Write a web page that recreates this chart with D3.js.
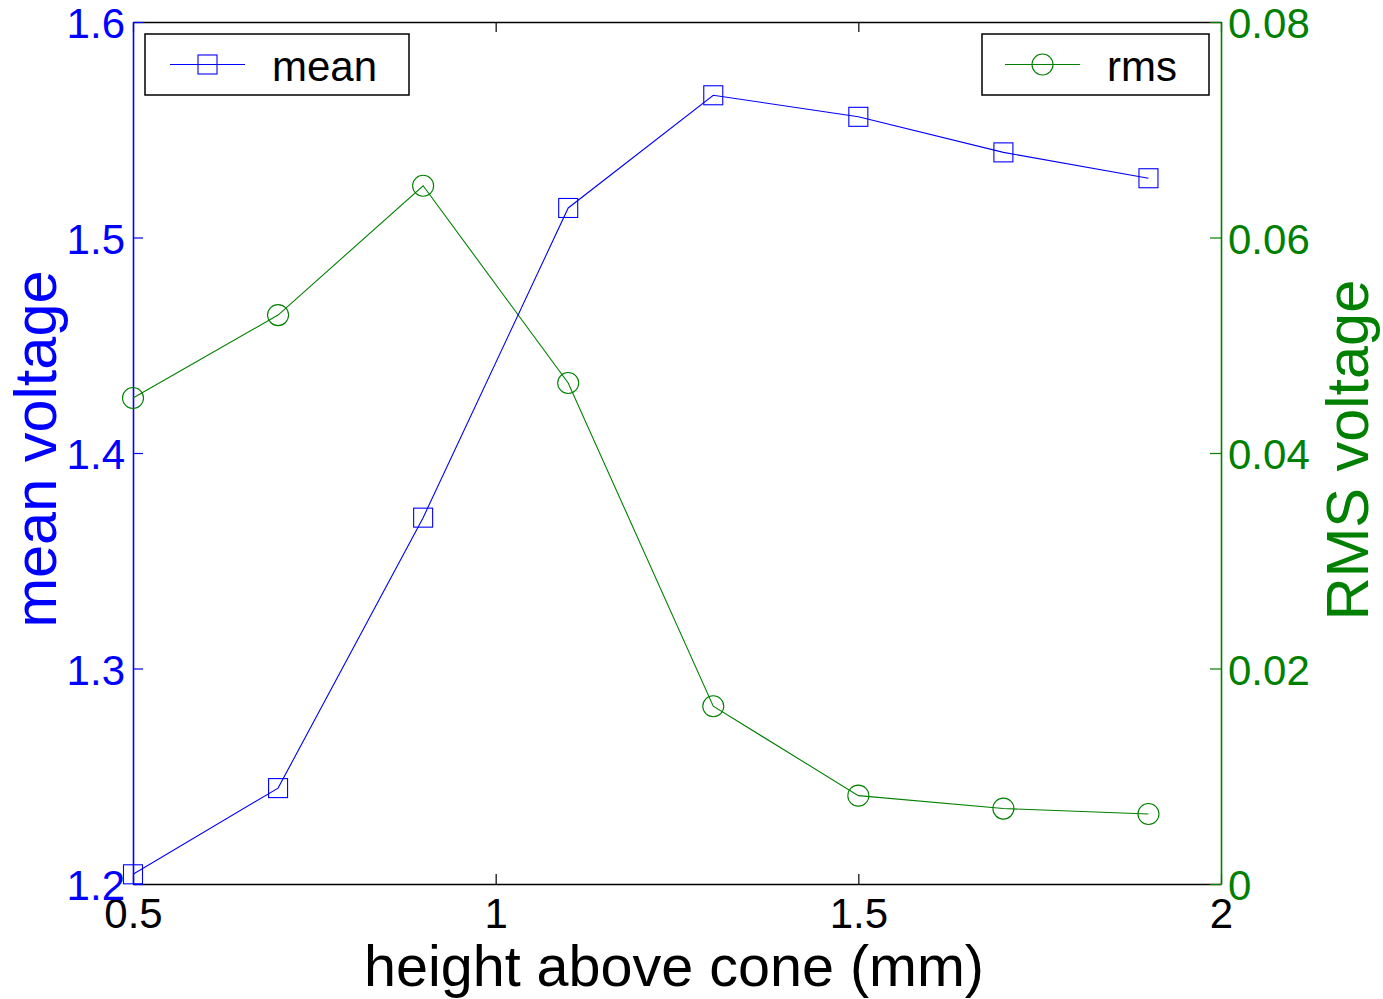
<!DOCTYPE html>
<html>
<head>
<meta charset="utf-8">
<script src="https://cdn.jsdelivr.net/npm/d3@7"></script>
<style>
  html, body { margin: 0; padding: 0; background: #fff; }
  svg { display: block; font-family: "Liberation Sans", Arial, sans-serif; }
</style>
</head>
<body>
<div id="chart"></div>
<script>
// mean / rms voltage vs height above cone, two y axes (plotyy style)
const heights = [0.5, 0.7, 0.9, 1.1, 1.3, 1.5, 1.7, 1.9];
const meanV = [1.2045, 1.2445, 1.370, 1.5137, 1.566, 1.556, 1.5395, 1.5275];
const rmsV = [0.0451, 0.0528, 0.0648, 0.0465, 0.0165, 0.0082, 0.0070, 0.0065];
const xTicks = [0.5, 1, 1.5, 2];
const yLeftTicks = [1.2, 1.3, 1.4, 1.5, 1.6];
const yRightTicks = [0, 0.02, 0.04, 0.06, 0.08];

const W = 1383, H = 999;
const plot = { left: 133, right: 1221, top: 22, bottom: 884 };
const BLUE = "#0000ff", GREEN = "#008000";

const svg = d3.select("#chart").append("svg").attr("width", W).attr("height", H);

const x = d3.scaleLinear().domain([0.5, 2]).range([plot.left, plot.right]);
const yL = d3.scaleLinear().domain([1.2, 1.6]).range([plot.bottom, plot.top]);
const yR = d3.scaleLinear().domain([0, 0.08]).range([plot.bottom, plot.top]);

function styleAxis(g, color) {
  g.select(".domain").attr("stroke", color).attr("stroke-width", 1.6);
  g.selectAll(".tick line").attr("stroke", color).attr("stroke-width", 1.2);
  g.selectAll(".tick text").attr("fill", color).attr("font-size", 42)
    .attr("font-family", "\"Liberation Sans\", Arial, sans-serif");
}

// top x (ticks only)
svg.append("g").attr("transform", `translate(0,${plot.top})`)
  .call(d3.axisTop(x).tickValues(xTicks).tickSize(-10).tickSizeOuter(0).tickFormat(""))
  .call((g) => styleAxis(g, "#000"));

// bottom x
svg.append("g").attr("transform", `translate(0,${plot.bottom})`)
  .call(d3.axisBottom(x).tickValues(xTicks).tickSize(-10).tickSizeOuter(0).tickPadding(14)
    .tickFormat(d3.format("")))
  .call((g) => styleAxis(g, "#000"));

// left y (mean)
svg.append("g").attr("transform", `translate(${plot.left},0)`)
  .call(d3.axisLeft(yL).tickValues(yLeftTicks).tickSize(-10).tickSizeOuter(0).tickPadding(8)
    .tickFormat(d3.format(".1f")))
  .call((g) => styleAxis(g, BLUE))
  .call((g) => g.selectAll(".tick text").attr("dy", "0.37em"));

// right y (rms)
svg.append("g").attr("transform", `translate(${plot.right},0)`)
  .call(d3.axisRight(yR).tickValues(yRightTicks).tickSize(-11).tickSizeOuter(0).tickPadding(7)
    .tickFormat((d) => d === 0 ? "0" : d3.format(".2f")(d)))
  .call((g) => styleAxis(g, GREEN))
  .call((g) => g.selectAll(".tick text").attr("dy", "0.37em"));

// series
const meanData = heights.map((h, i) => ({ x: h, y: meanV[i] }));
const rmsData = heights.map((h, i) => ({ x: h, y: rmsV[i] }));

svg.append("path").datum(rmsData).attr("fill", "none").attr("stroke", GREEN).attr("stroke-width", 1.1)
  .attr("d", d3.line().x((d) => x(d.x)).y((d) => yR(d.y)));
svg.append("g").selectAll("circle").data(rmsData).join("circle")
  .attr("cx", (d) => x(d.x)).attr("cy", (d) => yR(d.y)).attr("r", 10.5)
  .attr("fill", "none").attr("stroke", GREEN).attr("stroke-width", 1.1);

svg.append("path").datum(meanData).attr("fill", "none").attr("stroke", BLUE).attr("stroke-width", 1.1)
  .attr("d", d3.line().x((d) => x(d.x)).y((d) => yL(d.y)));
const sq = 19;
svg.append("g").selectAll("rect").data(meanData).join("rect")
  .attr("x", (d) => x(d.x) - sq / 2).attr("y", (d) => yL(d.y) - sq / 2)
  .attr("width", sq).attr("height", sq)
  .attr("fill", "none").attr("stroke", BLUE).attr("stroke-width", 1.1);

// axis titles
svg.append("text").attr("transform", "translate(674,986)")
  .attr("text-anchor", "middle").attr("font-size", 57.5).attr("fill", "#000")
  .text("height above cone (mm)");
svg.append("text").attr("transform", "translate(56,449) rotate(-90)")
  .attr("text-anchor", "middle").attr("font-size", 59.5).attr("fill", BLUE)
  .text("mean voltage");
svg.append("text").attr("transform", "translate(1368,450) rotate(-90)")
  .attr("text-anchor", "middle").attr("font-size", 59.5).attr("fill", GREEN)
  .text("RMS voltage");

// legends
const legends = [
  { label: "mean", color: BLUE, marker: "square", box: [145, 34, 264, 61], lx: [170, 245], tx: 272 },
  { label: "rms", color: GREEN, marker: "circle", box: [982, 34, 227, 61], lx: [1005, 1080], tx: 1107 },
];
legends.forEach((L) => {
  const g = svg.append("g");
  const [bx, by, bw, bh] = L.box;
  const cy = by + bh / 2;
  g.append("rect").attr("x", bx).attr("y", by).attr("width", bw).attr("height", bh)
    .attr("fill", "#fff").attr("stroke", "#000").attr("stroke-width", 1.5);
  g.append("line").attr("x1", L.lx[0]).attr("x2", L.lx[1]).attr("y1", cy).attr("y2", cy)
    .attr("stroke", L.color).attr("stroke-width", 1.1);
  const mx = (L.lx[0] + L.lx[1]) / 2;
  if (L.marker === "square") {
    g.append("rect").attr("x", mx - sq / 2).attr("y", cy - sq / 2).attr("width", sq).attr("height", sq)
      .attr("fill", "none").attr("stroke", L.color).attr("stroke-width", 1.1);
  } else {
    g.append("circle").attr("cx", mx).attr("cy", cy).attr("r", 10.5)
      .attr("fill", "none").attr("stroke", L.color).attr("stroke-width", 1.1);
  }
  g.append("text").attr("x", L.tx).attr("y", by + 47).attr("font-size", 42).attr("fill", "#000")
    .text(L.label);
});
</script>
</body>
</html>
